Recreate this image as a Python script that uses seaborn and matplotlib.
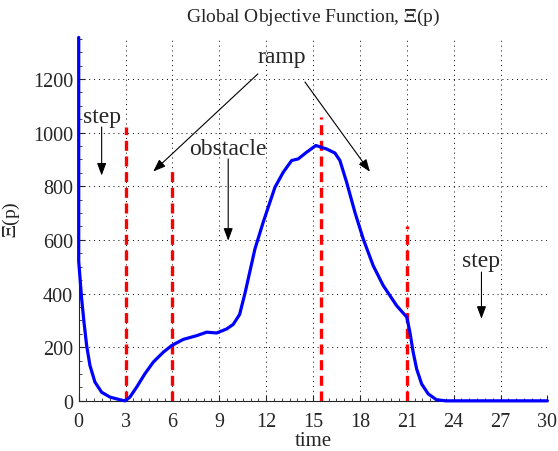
import numpy as np
import pandas as pd
import matplotlib
matplotlib.use("Agg")
import matplotlib.pyplot as plt
from matplotlib.ticker import MultipleLocator
import seaborn as sns

# objective function samples (time, value)
# (the curve leaves the top of the plot at t = 0)
time = [0, 0, 0.04, 0.19, 0.34, 0.51, 0.72, 1.04, 1.47, 2.0, 2.64, 2.96,
        3.28, 3.71, 4.24, 4.77, 5.41, 5.95, 6.69, 7.55, 8.19, 8.83, 9.47,
        9.89, 10.3, 10.64, 11.28, 11.81, 12.56, 13.09, 13.63, 14.05, 14.59,
        15.18, 15.87, 16.4, 16.72, 17.15, 17.68, 18.21, 18.85, 19.49, 20.35,
        21.0, 21.2, 21.41, 21.63, 21.95, 22.37, 22.9, 23.5, 27.0, 30.0]
xi = [1355, 520, 492, 380, 293, 206, 132, 70, 32, 14, 4, 0,
      14, 51, 101, 144, 181, 206, 229, 243, 256, 253, 268,
      285, 322, 400, 566, 666, 796, 852, 896, 902, 927,
      952, 939, 924, 896, 815, 703, 604, 504, 430, 355,
      312, 256, 181, 119, 63, 26, 4, 0, 0, 0]

# segment boundaries (red dashed markers)
switch_times = [3, 6, 15.5, 21]
switch_tops = [1021, 857, 1058, 652]

xticks = list(range(0, 31, 3))
yticks = list(range(0, 1201, 200))

sns.set_style("ticks")
plt.rcParams["font.family"] = ["Liberation Serif", "DejaVu Serif"]
plt.rcParams["mathtext.fontset"] = "stix"

df = pd.DataFrame({"time": time, "xi": xi})

fig = plt.figure(figsize=(5.58, 4.52), dpi=100)
ax = fig.add_axes([0.141, 0.111, 0.840, 0.804])

ax.set_xlim(0, 30)
ax.set_ylim(0, 1355)
ax.set_xticks(xticks)
ax.set_yticks(yticks)
ax.xaxis.set_minor_locator(MultipleLocator(0.5))
ax.yaxis.set_minor_locator(MultipleLocator(50))
ax.grid(True, which="major", color="black", linestyle=(0, (1, 4)), linewidth=0.7)
ax.tick_params(which="both", direction="in", labelsize=14.5)
ax.tick_params(axis="x", pad=8)
ax.tick_params(axis="y", pad=4)
ax.tick_params(which="major", length=4)
ax.tick_params(which="minor", length=2)
for s in ["top", "right"]:
    ax.spines[s].set_visible(False)

ax.vlines(switch_times, 0, switch_tops, colors="#ff0000", linestyles=(0, (3, 1.7)),
          linewidth=2.4, zorder=3)

sns.lineplot(data=df, x="time", y="xi", estimator=None, sort=False, ax=ax,
             color="#0000ff", linewidth=2.3, zorder=4)
ax.lines[-1].set_clip_on(False)
ax.lines[-1].set_solid_joinstyle("round")

arrow = dict(arrowstyle="-|>,head_length=0.75,head_width=0.28", color="black",
             linewidth=0.8, shrinkA=0, shrinkB=0)
fs = 17
# ramp: two arrows from one label
ax.annotate("", xy=(4.77, 855), xytext=(11.47, 1219), arrowprops=arrow)
ax.annotate("", xy=(18.64, 854), xytext=(14.48, 1189), arrowprops=arrow)
ax.text(13.0, 1282, "ramp", ha="center", va="center", fontsize=fs)
# first step
ax.annotate("", xy=(1.47, 840), xytext=(1.47, 1021), arrowprops=arrow)
ax.text(1.47, 1060, "step", ha="center", va="center", fontsize=fs)
# obstacle
ax.annotate("", xy=(9.57, 597), xytext=(9.57, 902), arrowprops=arrow)
ax.text(9.55, 941, "obstacle", ha="center", va="center", fontsize=fs)
# second step
ax.annotate("", xy=(25.78, 306), xytext=(25.78, 480), arrowprops=arrow)
ax.text(25.78, 524, "step", ha="center", va="center", fontsize=fs)

ax.set_title("Global Objective Function, $\\Xi$(p)", fontsize=14, pad=12)
ax.set_xlabel("time", fontsize=15, labelpad=0)
ax.set_ylabel("$\\Xi$(p)", fontsize=14, labelpad=8)

fig.savefig("out.png", dpi=100)
